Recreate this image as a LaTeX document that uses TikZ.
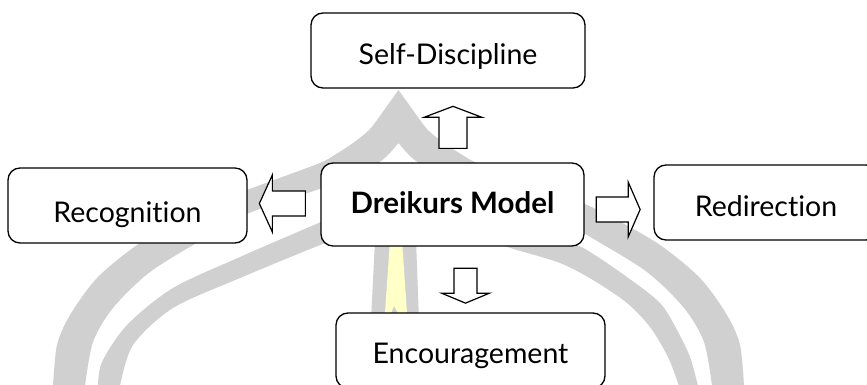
\documentclass[tikz,border=0pt]{standalone}
\usepackage{fontspec}
\setmainfont{Lato}[Ligatures={NoCommon}]
\usetikzlibrary{calc}
\definecolor{wmgrey}{RGB}{208,208,208}
\definecolor{wmyellow}{RGB}{255,255,200}
\tikzset{
  box/.style={draw=black, fill=white, line width=1.3pt, rounded corners=12pt,
    inner sep=0pt, text depth=0pt, font=\fontsize{28.5}{32}\selectfont},
  barrow/.style={draw=black, fill=white, line width=1.2pt, line join=miter},
  wm/.style={fill=wmgrey}
}
\begin{document}
\begin{tikzpicture}[x=1pt,y=-1pt]
\useasboundingbox (0,0) rectangle (867,385);
\clip (0,0) rectangle (867,385);
\fill[white] (0,0) rectangle (867,385);
% watermark: outer band
\fill[wm] plot[smooth] coordinates {(53,386) (57,345) (70,315) (97,278) (137,245) (180,220) (212,204) (247,190) (285,176) (320,163) (333,156) (353,143) (370,129) (387,106) (398.5,90)}
  -- plot[smooth] coordinates {(398.5,90) (410,106) (427,129) (444,143) (464,156) (477,163) (512,176) (550,190) (585,204) (617,220) (660,245) (700,278) (727,315) (740,345) (744,386)}
  -- plot[smooth] coordinates {(712,386) (704,342) (684,308) (647,272) (592,238) (550,214) (507,199) (475,188) (442,175) (419,163) (409,155) (398.5,143)}
  -- plot[smooth] coordinates {(398.5,143) (388,155) (378,163) (355,175) (322,188) (290,199) (247,214) (205,238) (150,272) (113,308) (93,342) (85,386)}
  -- cycle;
% watermark: inner band
\fill[wm] plot[smooth] coordinates {(98,386) (102,362) (127,325) (173,288) (240,257) (321,222) (360,206) (398,196) (440,200) (500,220) (560,240) (585,249) (627,277) (660,303) (677,330) (690,357) (698,386)}
  -- plot[smooth] coordinates {(679,386) (668,357) (650,327) (627,303) (593,280) (560,263) (517,250) (470,236) (420,228) (380,228) (345,236) (320,245) (240,278) (173,308) (133,345) (120,386)}
  -- cycle;
% watermark: central pillar
\fill[wm] (375,240) -- (416,240) -- (419,320) -- (371,320) -- cycle;
\fill[wmyellow] (390,240) -- (402,240) -- (407,313) -- (398,313) -- (394,306) -- (391,313) -- (385,313) -- cycle;
% boxes
\node[box, minimum width=274pt, minimum height=75pt, text height=29pt] (sd) at (448,50.5) {Self-Discipline};
\node[box, minimum width=263pt, minimum height=83pt, text height=17pt, font=\fontsize{29.5}{33}\selectfont\bfseries] (dm) at (452.5,204.5) {Dreikurs Model};
\node[box, minimum width=239pt, minimum height=75pt, text height=33pt] (rc) at (127.5,205.5) {Recognition};
\node[box, minimum width=224pt, minimum height=75pt, text height=27pt] (rd) at (766,202.5) {Redirection};
\node[box, minimum width=269pt, minimum height=75pt, text height=25pt] (en) at (470.5,350.5) {Encouragement};
% block arrows
\coordinate (aU) at ($(dm.north)+(0.5,-14)$);
\coordinate (aD) at ($(dm.south)+(13,21.5)$);
\coordinate (aL) at ($(dm.west)+(-15,-1)$);
\coordinate (aR) at ($(dm.east)+(11.5,5)$);
\draw[barrow] (aU) ++(-14,0) -- ++(0,-31) -- ++(-15,0) -- ++(29,-11) -- ++(29,11) -- ++(-15,0) -- ++(0,31) -- cycle;
\draw[barrow] (aD) ++(-11.5,0) -- ++(0,25) -- ++(-12.5,0) -- ++(24,10) -- ++(24,-10) -- ++(-12.5,0) -- ++(0,-25) -- cycle;
\draw[barrow] (aL) ++(0,-12.5) -- ++(-33,0) -- ++(0,-16) -- ++(-13,28.5) -- ++(13,28.5) -- ++(0,-16) -- ++(33,0) -- cycle;
\draw[barrow] (aR) ++(0,-12.5) -- ++(32,0) -- ++(0,-15) -- ++(12,27.5) -- ++(-12,27.5) -- ++(0,-15) -- ++(-32,0) -- cycle;
\end{tikzpicture}
\end{document}
